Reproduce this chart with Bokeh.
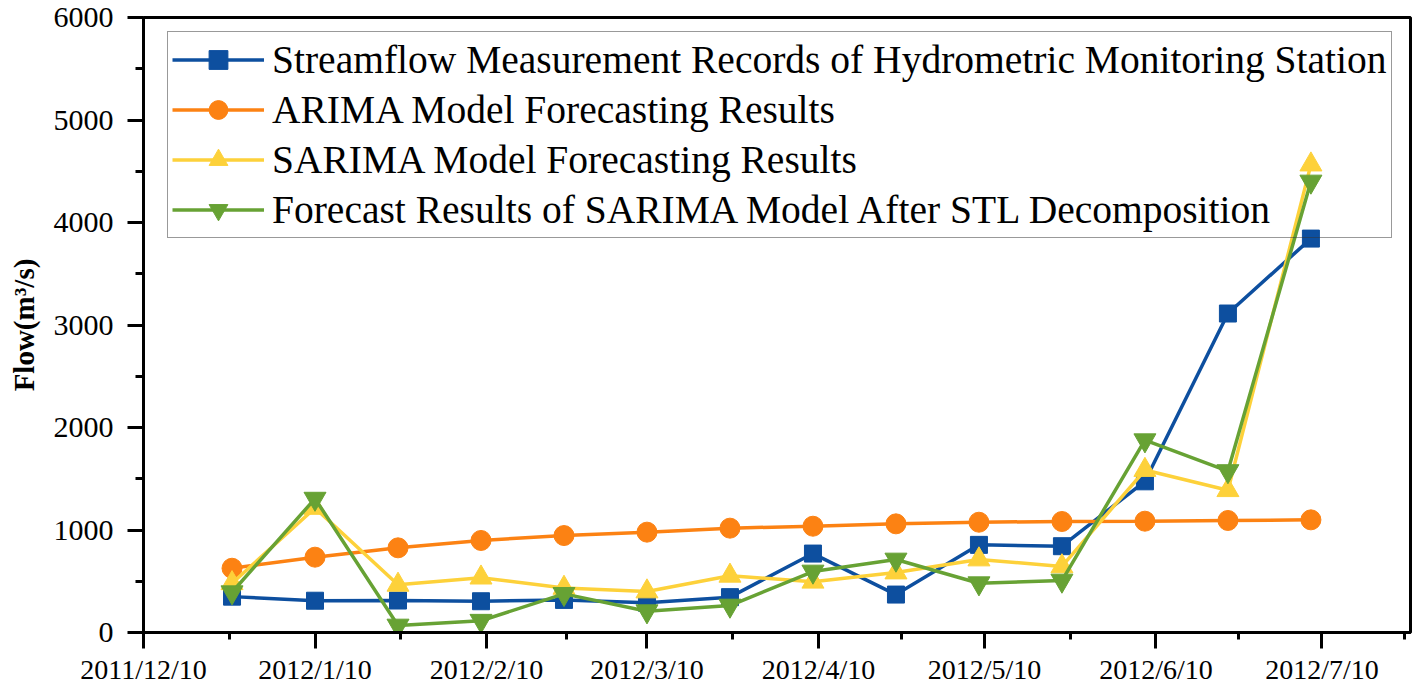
import pandas as pd
from bokeh.plotting import figure
from bokeh.models import FixedTicker, Range1d, Legend, LegendItem
from bokeh.embed import file_html
from bokeh.resources import INLINE

# ---------------- data ----------------
dates = ["2011-12-26", "2012-01-10", "2012-01-25", "2012-02-09", "2012-02-24",
         "2012-03-10", "2012-03-25", "2012-04-09", "2012-04-24", "2012-05-09",
         "2012-05-24", "2012-06-08", "2012-06-23", "2012-07-08"]

measured = [350, 310, 312, 305, 318, 290, 345, 770, 370, 855, 842, 1475, 3112, 3843]
arima = [627, 735, 826, 898, 946, 979, 1018, 1037, 1060, 1076, 1083, 1086, 1093, 1099]
sarima = [480, 1215, 465, 535, 435, 400, 553, 495, 585, 712, 645, 1585, 1388, 4565]
stl_sarima = [393, 1306, 68, 115, 377, 208, 263, 595, 712, 481, 507, 1876, 1575, 4400]

series_names = ["Streamflow Measurement Records of Hydrometric Monitoring Station",
                "ARIMA Model Forecasting Results",
                "SARIMA Model Forecasting Results",
                "Forecast Results of SARIMA Model After STL Decomposition"]

tick_dates = ["2011-12-10", "2012-01-10", "2012-02-10", "2012-03-10",
              "2012-04-10", "2012-05-10", "2012-06-10", "2012-07-10"]
tick_labels = ["2011/12/10", "2012/1/10", "2012/2/10", "2012/3/10",
               "2012/4/10", "2012/5/10", "2012/6/10", "2012/7/10"]
x_start, x_end = "2011-12-10", "2012-07-26"
y_ticks = [0, 1000, 2000, 3000, 4000, 5000, 6000]

# ---------------- helpers ----------------
def ms(d):
    return pd.Timestamp(d).value / 1e6

x = [pd.Timestamp(d) for d in dates]
major = [ms(d) for d in tick_dates]
minor = [(a + b) / 2 for a, b in zip(major[:-1], major[1:])]
minor.append(major[-1] + (major[-1] - major[-2]) / 2)

FONT = "Liberation Serif"
colors = ["#0d4f9f", "#fc8213", "#fdd13a", "#67a234"]
markers = ["square", "circle", "triangle", "inverted_triangle"]
sizes = [17, 20, 22, 22]
values = [measured, arima, sarima, stl_sarima]

W, H = 1418, 688
p = figure(width=W, height=H, x_axis_type="datetime",
           output_backend="svg", toolbar_location=None,
           min_border_left=143, min_border_right=8, min_border_top=17,
           min_border_bottom=56)
p.x_range = Range1d(ms(x_start), ms(x_end))
p.y_range = Range1d(0, 6000)

items = []
for name, vals, c, m, s in zip(series_names, values, colors, markers, sizes):
    r1 = p.line(x, vals, line_color=c, line_width=3.5)
    r2 = p.scatter(x, vals, marker=m, size=s, fill_color=c, line_color=c)
    items.append(LegendItem(label=name, renderers=[r1, r2]))

legend = Legend(items=items, location=(24, 394),
                label_text_font=FONT, label_text_font_size="39.5px",
                label_text_color="black",
                glyph_width=92, glyph_height=47, label_height=47,
                label_standoff=8, spacing=3, padding=4,
                border_line_color="#333333", border_line_width=1,
                background_fill_alpha=0.0)
p.add_layout(legend, "center")

p.xgrid.visible = False
p.ygrid.visible = False
p.outline_line_color = "black"
p.outline_line_width = 3
p.background_fill_color = "white"
p.border_fill_color = "white"

xa = p.xaxis[0]
xa.ticker = FixedTicker(ticks=major, minor_ticks=minor)
xa.major_label_overrides = {t: l for t, l in zip(major, tick_labels)}
xa.major_label_text_font = FONT
xa.major_label_text_font_size = "28px"
xa.major_label_text_color = "black"
xa.major_label_standoff = 5
xa.axis_line_width = 3
xa.major_tick_line_width = 3
xa.minor_tick_line_width = 3
xa.major_tick_out = 16
xa.major_tick_in = 0
xa.minor_tick_out = 7
xa.minor_tick_in = 0

ya = p.yaxis[0]
ya.ticker = FixedTicker(ticks=y_ticks, minor_ticks=[v + 500 for v in y_ticks[:-1]])
ya.major_label_text_font = FONT
ya.major_label_text_font_size = "30px"
ya.major_label_text_color = "black"
ya.major_label_standoff = 14
ya.axis_label = "Flow(m³/s)"
ya.axis_label_text_font = FONT
ya.axis_label_text_font_style = "bold"
ya.axis_label_text_font_size = "29px"
ya.axis_label_text_color = "black"
ya.axis_label_standoff = 11
ya.axis_line_width = 3
ya.major_tick_line_width = 3
ya.minor_tick_line_width = 3
ya.major_tick_out = 16
ya.major_tick_in = 0
ya.minor_tick_out = 8
ya.minor_tick_in = 0

open("out.html", "w").write(file_html(p, INLINE))
